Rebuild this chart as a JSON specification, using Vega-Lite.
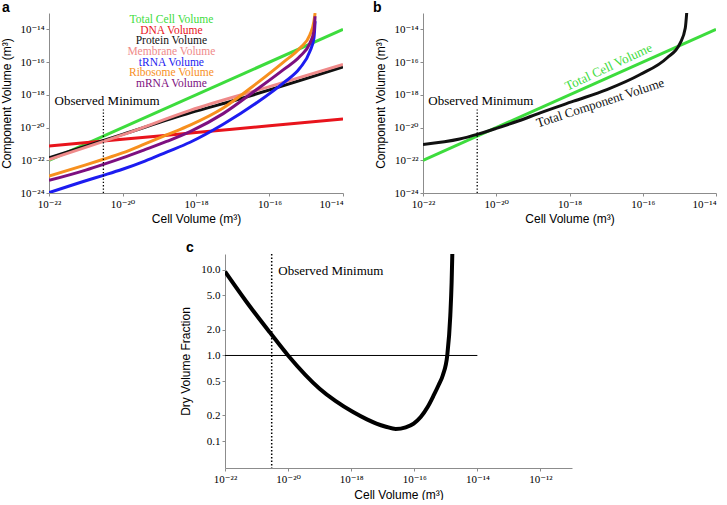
{
  "$schema": "https://vega.github.io/schema/vega-lite/v6.json",
  "padding": {"left": 0, "top": 1, "right": 0, "bottom": 0},
  "background": "white",
  "config": {
    "view": {"stroke": null},
    "axis": {"grid": false, "domainColor": "#8c8c8c", "tickColor": "#8c8c8c", "tickSize": 3, "labelFont": "Liberation Serif, DejaVu Serif", "labelFontSize": 11, "labelColor": "#000", "titleFont": "Liberation Sans", "titleFontSize": 12, "titleFontWeight": "normal", "titleColor": "#000", "labelPadding": 2, "labelFlush": false, "labelOverlap": false},
    "title": {"font": "Liberation Sans", "fontSize": 14, "fontWeight": "bold", "anchor": "start", "frame": "group", "baseline": "top", "offset": -2, "color": "#000"}
  },
  "datasets": {
    "components": [
      {"series": "Total Cell Volume", "V": 1e-22, "C": 1e-22},
      {"series": "Total Cell Volume", "V": 1e-14, "C": 1e-14},
      {"series": "DNA Volume", "V": 1e-22, "C": 7.41e-22},
      {"series": "DNA Volume", "V": 1e-20, "C": 1.91e-21},
      {"series": "DNA Volume", "V": 1e-18, "C": 5.01e-21},
      {"series": "DNA Volume", "V": 1e-16, "C": 1.29e-20},
      {"series": "DNA Volume", "V": 1e-14, "C": 3.39e-20},
      {"series": "Protein Volume", "V": 1e-22, "C": 1.41e-22},
      {"series": "Protein Volume", "V": 1e-20, "C": 3.8e-21},
      {"series": "Protein Volume", "V": 6.92e-19, "C": 7.94e-20},
      {"series": "Protein Volume", "V": 1.29e-17, "C": 5.01e-19},
      {"series": "Protein Volume", "V": 1e-14, "C": 5.01e-17},
      {"series": "Membrane Volume", "V": 1e-22, "C": 1.12e-22},
      {"series": "Membrane Volume", "V": 1e-20, "C": 3.55e-21},
      {"series": "Membrane Volume", "V": 6.92e-19, "C": 1.12e-19},
      {"series": "Membrane Volume", "V": 1e-16, "C": 3.16e-18},
      {"series": "Membrane Volume", "V": 1e-14, "C": 7.08e-17},
      {"series": "tRNA Volume", "V": 1e-22, "C": 1.05e-24},
      {"series": "tRNA Volume", "V": 1e-21, "C": 5.62e-24},
      {"series": "tRNA Volume", "V": 3.02e-21, "C": 1.2e-23},
      {"series": "tRNA Volume", "V": 1e-20, "C": 2.82e-23},
      {"series": "tRNA Volume", "V": 4.07e-20, "C": 8.91e-23},
      {"series": "tRNA Volume", "V": 1.585e-19, "C": 3.16e-22},
      {"series": "tRNA Volume", "V": 6.92e-19, "C": 1.26e-21},
      {"series": "tRNA Volume", "V": 5.5e-18, "C": 1.58e-20},
      {"series": "tRNA Volume", "V": 4.47e-17, "C": 3.24e-19},
      {"series": "tRNA Volume", "V": 2.4e-16, "C": 5.37e-18},
      {"series": "tRNA Volume", "V": 6.76e-16, "C": 4.37e-17},
      {"series": "tRNA Volume", "V": 1.26e-15, "C": 4.57e-16},
      {"series": "tRNA Volume", "V": 1.62e-15, "C": 2.95e-15},
      {"series": "tRNA Volume", "V": 1.74e-15, "C": 3.16e-14},
      {"series": "Ribosome Volume", "V": 1e-22, "C": 1.1e-23},
      {"series": "Ribosome Volume", "V": 1e-21, "C": 5.25e-23},
      {"series": "Ribosome Volume", "V": 3.02e-21, "C": 1.15e-22},
      {"series": "Ribosome Volume", "V": 1e-20, "C": 2.82e-22},
      {"series": "Ribosome Volume", "V": 4.07e-20, "C": 1e-21},
      {"series": "Ribosome Volume", "V": 1.585e-19, "C": 3.55e-21},
      {"series": "Ribosome Volume", "V": 6.92e-19, "C": 1.41e-20},
      {"series": "Ribosome Volume", "V": 5.5e-18, "C": 1.58e-19},
      {"series": "Ribosome Volume", "V": 4.47e-17, "C": 5.01e-18},
      {"series": "Ribosome Volume", "V": 2.4e-16, "C": 1e-16},
      {"series": "Ribosome Volume", "V": 6.76e-16, "C": 7.24e-16},
      {"series": "Ribosome Volume", "V": 1.26e-15, "C": 4.68e-15},
      {"series": "Ribosome Volume", "V": 1.62e-15, "C": 3.09e-14},
      {"series": "Ribosome Volume", "V": 1.74e-15, "C": 1e-13},
      {"series": "mRNA Volume", "V": 1e-22, "C": 5.89e-24},
      {"series": "mRNA Volume", "V": 1e-21, "C": 2.51e-23},
      {"series": "mRNA Volume", "V": 3.02e-21, "C": 5.62e-23},
      {"series": "mRNA Volume", "V": 1e-20, "C": 1.41e-22},
      {"series": "mRNA Volume", "V": 4.07e-20, "C": 4.47e-22},
      {"series": "mRNA Volume", "V": 1.585e-19, "C": 1.41e-21},
      {"series": "mRNA Volume", "V": 6.92e-19, "C": 5.62e-21},
      {"series": "mRNA Volume", "V": 5.5e-18, "C": 7.08e-20},
      {"series": "mRNA Volume", "V": 4.47e-17, "C": 2.09e-18},
      {"series": "mRNA Volume", "V": 2.4e-16, "C": 3.47e-17},
      {"series": "mRNA Volume", "V": 6.76e-16, "C": 2.24e-16},
      {"series": "mRNA Volume", "V": 1.26e-15, "C": 1.45e-15},
      {"series": "mRNA Volume", "V": 1.62e-15, "C": 7.59e-15},
      {"series": "mRNA Volume", "V": 1.74e-15, "C": 6.31e-14}
    ],
    "labelsA": [
      {"label": "Total Cell Volume", "V": 2.14e-19, "C": 3.89e-14},
      {"label": "DNA Volume", "V": 2.14e-19, "C": 8.32e-15},
      {"label": "Protein Volume", "V": 2.14e-19, "C": 1.86e-15},
      {"label": "Membrane Volume", "V": 2.14e-19, "C": 4.17e-16},
      {"label": "tRNA Volume", "V": 2.14e-19, "C": 9.33e-17},
      {"label": "Ribosome Volume", "V": 2.14e-19, "C": 2.09e-17},
      {"label": "mRNA Volume", "V": 2.14e-19, "C": 4.9e-18}
    ],
    "totals": [
      {"series": "Total Cell Volume", "V": 1e-22, "C": 1e-22},
      {"series": "Total Cell Volume", "V": 1e-14, "C": 1e-14},
      {"series": "Total Component Volume", "V": 1e-22, "C": 9.33e-22},
      {"series": "Total Component Volume", "V": 1e-21, "C": 2e-21},
      {"series": "Total Component Volume", "V": 3.16e-21, "C": 3.98e-21},
      {"series": "Total Component Volume", "V": 1e-20, "C": 8.91e-21},
      {"series": "Total Component Volume", "V": 3.98e-20, "C": 2.51e-20},
      {"series": "Total Component Volume", "V": 1.585e-19, "C": 7.94e-20},
      {"series": "Total Component Volume", "V": 1.29e-18, "C": 4.07e-19},
      {"series": "Total Component Volume", "V": 1.05e-17, "C": 2.09e-18},
      {"series": "Total Component Volume", "V": 8.51e-17, "C": 1.74e-17},
      {"series": "Total Component Volume", "V": 4.57e-16, "C": 1.78e-16},
      {"series": "Total Component Volume", "V": 1.05e-15, "C": 1.45e-15},
      {"series": "Total Component Volume", "V": 1.45e-15, "C": 1.2e-14},
      {"series": "Total Component Volume", "V": 1.585e-15, "C": 1e-13}
    ],
    "labelsB": [
      {"label": "Total Cell Volume", "V": 1.17e-17, "C": 5.01e-17, "angle": 335},
      {"label": "Total Component Volume", "V": 6.92e-18, "C": 3.16e-19, "angle": 342}
    ],
    "fraction": [
      {"V": 1e-22, "F": 9.5},
      {"V": 4.9e-22, "F": 4.17},
      {"V": 2.63e-21, "F": 1.86},
      {"V": 1e-20, "F": 1.0},
      {"V": 1e-19, "F": 0.41},
      {"V": 3.16e-19, "F": 0.295},
      {"V": 1.15e-18, "F": 0.219},
      {"V": 3.16e-18, "F": 0.18},
      {"V": 6.31e-18, "F": 0.161},
      {"V": 1.26e-17, "F": 0.148},
      {"V": 2.58e-17, "F": 0.139},
      {"V": 5.35e-17, "F": 0.1455},
      {"V": 9.57e-17, "F": 0.1612},
      {"V": 1.6e-16, "F": 0.192},
      {"V": 2.65e-16, "F": 0.251},
      {"V": 4.11e-16, "F": 0.342},
      {"V": 5.92e-16, "F": 0.453},
      {"V": 8.09e-16, "F": 0.593},
      {"V": 1.114e-15, "F": 1.013},
      {"V": 1.387e-15, "F": 2.91},
      {"V": 1.528e-15, "F": 7.13},
      {"V": 1.607e-15, "F": 15.2}
    ],
    "obsmin": [
      {"V": 3.02e-21, "lo": 1e-24, "hi": 1.26e-19, "tx": 3.8e-21, "ty": 2.34e-19, "label": "Observed Minimum"}
    ]
  },
  "spacing": 17,
  "vconcat": [
    {
      "bounds": "flush",
      "spacing": 80,
      "hconcat": [
        {
          "width": 294, "height": 180,
          "title": {"text": "a", "dx": -47},
          "layer": [
            {
              "data": {"name": "components"},
              "mark": {"type": "line", "interpolate": "monotone", "clip": true},
              "encoding": {
                "x": {"field": "V", "type": "quantitative", "scale": {"type": "log", "domain": [1e-22, 1e-14], "nice": false},
                  "axis": {"values": [1e-22, 1e-20, 1e-18, 1e-16, 1e-14], "title": "Cell Volume (m³)", "titlePadding": 4,
                    "labelAlign": {"condition": {"test": "datum.value > 5e-15", "value": "right"}, "value": "center"},
                    "labelExpr": "'10' + replace(replace(replace(replace(replace(replace(replace(replace(replace(replace(replace('' + round(log(datum.value)/LN10), '-', '⁻'), regexp('0','g'), '⁰'), regexp('1','g'), '¹'), regexp('2','g'), '²'), regexp('3','g'), '³'), regexp('4','g'), '⁴'), regexp('5','g'), '⁵'), regexp('6','g'), '⁶'), regexp('7','g'), '⁷'), regexp('8','g'), '⁸'), regexp('9','g'), '⁹')"}},
                "y": {"field": "C", "type": "quantitative", "scale": {"type": "log", "domain": [1e-24, 1e-13], "nice": false},
                  "axis": {"values": [1e-24, 1e-22, 1e-20, 1e-18, 1e-16, 1e-14], "title": "Component Volume (m³)", "titlePadding": 6,
                    "labelExpr": "'10' + replace(replace(replace(replace(replace(replace(replace(replace(replace(replace(replace('' + round(log(datum.value)/LN10), '-', '⁻'), regexp('0','g'), '⁰'), regexp('1','g'), '¹'), regexp('2','g'), '²'), regexp('3','g'), '³'), regexp('4','g'), '⁴'), regexp('5','g'), '⁵'), regexp('6','g'), '⁶'), regexp('7','g'), '⁷'), regexp('8','g'), '⁸'), regexp('9','g'), '⁹')"}},
                "color": {"field": "series", "type": "nominal", "legend": null,
                  "scale": {"domain": ["Total Cell Volume", "DNA Volume", "Protein Volume", "Membrane Volume", "tRNA Volume", "Ribosome Volume", "mRNA Volume", "Total Component Volume"],
                    "range": ["#3ddc3d", "#e8141c", "#111111", "#ef8a8a", "#1c1cf0", "#f7901e", "#7d0f80", "#111111"]}},
                "strokeWidth": {"field": "series", "type": "ordinal", "legend": null,
                  "scale": {"domain": ["Total Cell Volume", "DNA Volume", "Protein Volume", "Membrane Volume", "tRNA Volume", "Ribosome Volume", "mRNA Volume"],
                    "range": [3, 3, 2, 4, 3, 3, 3]}}
              }
            },
            {
              "data": {"name": "labelsA"},
              "mark": {"type": "text", "font": "Liberation Serif", "fontSize": 11.5, "align": "center", "baseline": "middle"},
              "encoding": {
                "x": {"field": "V", "type": "quantitative"},
                "y": {"field": "C", "type": "quantitative"},
                "text": {"field": "label"},
                "color": {"field": "label", "type": "nominal", "legend": null,
                  "scale": {"domain": ["Total Cell Volume", "DNA Volume", "Protein Volume", "Membrane Volume", "tRNA Volume", "Ribosome Volume", "mRNA Volume", "Total Component Volume"],
                    "range": ["#3ddc3d", "#e8141c", "#111111", "#ef8a8a", "#1c1cf0", "#f7901e", "#7d0f80", "#111111"]}}
              }
            },
            {
              "data": {"name": "obsmin"},
              "mark": {"type": "rule", "color": "#000", "strokeWidth": 1.3, "strokeDash": [1.3, 2]},
              "encoding": {
                "x": {"field": "V", "type": "quantitative"},
                "y": {"field": "lo", "type": "quantitative"},
                "y2": {"field": "hi"}
              }
            },
            {
              "data": {"name": "obsmin"},
              "mark": {"type": "text", "font": "Liberation Serif", "fontSize": 13, "align": "center", "baseline": "alphabetic", "color": "#000"},
              "encoding": {
                "x": {"field": "tx", "type": "quantitative"},
                "y": {"field": "ty", "type": "quantitative"},
                "text": {"field": "label"}
              }
            }
          ]
        },
        {
          "width": 293, "height": 180,
          "title": {"text": "b", "dx": -50},
          "layer": [
            {
              "data": {"name": "totals"},
              "mark": {"type": "line", "interpolate": "monotone", "clip": true, "strokeWidth": 3},
              "encoding": {
                "x": {"field": "V", "type": "quantitative", "scale": {"type": "log", "domain": [1e-22, 1e-14], "nice": false},
                  "axis": {"values": [1e-22, 1e-20, 1e-18, 1e-16, 1e-14], "title": "Cell Volume (m³)", "titlePadding": 4,
                    "labelAlign": {"condition": {"test": "datum.value > 5e-15", "value": "right"}, "value": "center"},
                    "labelExpr": "'10' + replace(replace(replace(replace(replace(replace(replace(replace(replace(replace(replace('' + round(log(datum.value)/LN10), '-', '⁻'), regexp('0','g'), '⁰'), regexp('1','g'), '¹'), regexp('2','g'), '²'), regexp('3','g'), '³'), regexp('4','g'), '⁴'), regexp('5','g'), '⁵'), regexp('6','g'), '⁶'), regexp('7','g'), '⁷'), regexp('8','g'), '⁸'), regexp('9','g'), '⁹')"}},
                "y": {"field": "C", "type": "quantitative", "scale": {"type": "log", "domain": [1e-24, 1e-13], "nice": false},
                  "axis": {"values": [1e-24, 1e-22, 1e-20, 1e-18, 1e-16, 1e-14], "title": "Component Volume (m³)", "titlePadding": 6,
                    "labelExpr": "'10' + replace(replace(replace(replace(replace(replace(replace(replace(replace(replace(replace('' + round(log(datum.value)/LN10), '-', '⁻'), regexp('0','g'), '⁰'), regexp('1','g'), '¹'), regexp('2','g'), '²'), regexp('3','g'), '³'), regexp('4','g'), '⁴'), regexp('5','g'), '⁵'), regexp('6','g'), '⁶'), regexp('7','g'), '⁷'), regexp('8','g'), '⁸'), regexp('9','g'), '⁹')"}},
                "color": {"field": "series", "type": "nominal", "legend": null,
                  "scale": {"domain": ["Total Cell Volume", "DNA Volume", "Protein Volume", "Membrane Volume", "tRNA Volume", "Ribosome Volume", "mRNA Volume", "Total Component Volume"],
                    "range": ["#3ddc3d", "#e8141c", "#111111", "#ef8a8a", "#1c1cf0", "#f7901e", "#7d0f80", "#111111"]}}
              }
            },
            {
              "data": {"name": "labelsB"},
              "mark": {"type": "text", "font": "Liberation Serif", "fontSize": 13, "align": "center", "baseline": "middle"},
              "encoding": {
                "x": {"field": "V", "type": "quantitative"},
                "y": {"field": "C", "type": "quantitative"},
                "text": {"field": "label"},
                "angle": {"field": "angle", "type": "quantitative", "scale": null},
                "color": {"field": "label", "type": "nominal", "legend": null,
                  "scale": {"domain": ["Total Cell Volume", "DNA Volume", "Protein Volume", "Membrane Volume", "tRNA Volume", "Ribosome Volume", "mRNA Volume", "Total Component Volume"],
                    "range": ["#3ddc3d", "#e8141c", "#111111", "#ef8a8a", "#1c1cf0", "#f7901e", "#7d0f80", "#111111"]}}
              }
            },
            {
              "data": {"name": "obsmin"},
              "mark": {"type": "rule", "color": "#000", "strokeWidth": 1.3, "strokeDash": [1.3, 2]},
              "encoding": {
                "x": {"field": "V", "type": "quantitative"},
                "y": {"field": "lo", "type": "quantitative"},
                "y2": {"field": "hi"}
              }
            },
            {
              "data": {"name": "obsmin"},
              "mark": {"type": "text", "font": "Liberation Serif", "fontSize": 13, "align": "center", "baseline": "alphabetic", "color": "#000"},
              "encoding": {
                "x": {"field": "tx", "type": "quantitative"},
                "y": {"field": "ty", "type": "quantitative"},
                "text": {"field": "label"}
              }
            }
          ]
        }
      ]
    },
    {
      "bounds": "flush",
      "spacing": 20,
      "hconcat": [
        {
          "width": 156, "height": 10,
          "data": {"values": []},
          "mark": {"type": "point", "opacity": 0},
          "encoding": {}
        },
        {
          "width": 347, "height": 214,
          "title": {"text": "c", "dx": -39},
          "layer": [
            {
              "data": {"name": "fraction"},
              "mark": {"type": "line", "interpolate": "monotone", "clip": true, "strokeWidth": 4, "color": "#000"},
              "encoding": {
                "x": {"field": "V", "type": "quantitative", "scale": {"type": "log", "domain": [1e-22, 1e-11], "nice": false},
                  "axis": {"values": [1e-22, 1e-20, 1e-18, 1e-16, 1e-14, 1e-12], "title": "Cell Volume (m³)", "titlePadding": 5,
                    "labelExpr": "'10' + replace(replace(replace(replace(replace(replace(replace(replace(replace(replace(replace('' + round(log(datum.value)/LN10), '-', '⁻'), regexp('0','g'), '⁰'), regexp('1','g'), '¹'), regexp('2','g'), '²'), regexp('3','g'), '³'), regexp('4','g'), '⁴'), regexp('5','g'), '⁵'), regexp('6','g'), '⁶'), regexp('7','g'), '⁷'), regexp('8','g'), '⁸'), regexp('9','g'), '⁹')"}},
                "y": {"field": "F", "type": "quantitative", "scale": {"type": "log", "domain": [0.0489, 15.2], "nice": false},
                  "axis": {"values": [0.1, 0.2, 0.5, 1, 2, 5, 10], "format": ".1f", "title": "Dry Volume Fraction", "titlePadding": 8}}
              }
            },
            {
              "data": {"values": [{"V0": 1e-22, "V1": 1e-14, "F": 1}]},
              "mark": {"type": "rule", "color": "#000", "strokeWidth": 1},
              "encoding": {
                "x": {"field": "V0", "type": "quantitative"},
                "x2": {"field": "V1"},
                "y": {"field": "F", "type": "quantitative"}
              }
            },
            {
              "data": {"values": [{"V": 3.02e-21}]},
              "mark": {"type": "rule", "color": "#000", "strokeWidth": 1.5, "strokeDash": [1.5, 2]},
              "encoding": {
                "x": {"field": "V", "type": "quantitative"}
              }
            },
            {
              "data": {"values": [{"V": 4.9e-21, "F": 8.7, "label": "Observed Minimum"}]},
              "mark": {"type": "text", "font": "Liberation Serif", "fontSize": 13, "align": "left", "baseline": "alphabetic", "color": "#000"},
              "encoding": {
                "x": {"field": "V", "type": "quantitative"},
                "y": {"field": "F", "type": "quantitative"},
                "text": {"field": "label"}
              }
            }
          ]
        }
      ]
    }
  ]
}
